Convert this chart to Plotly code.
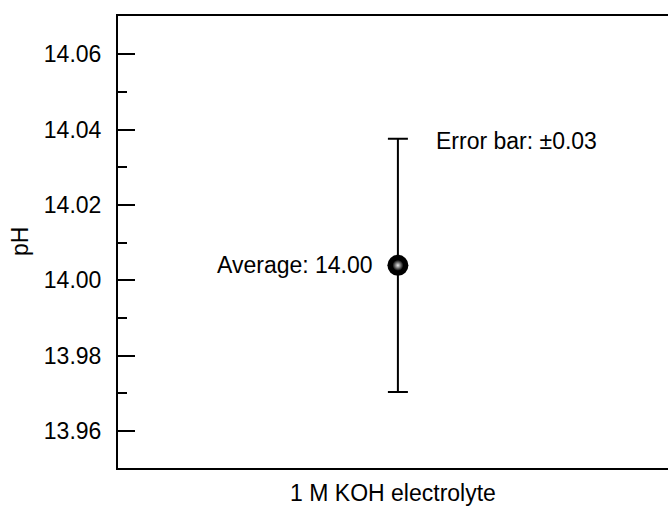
import plotly.graph_objects as go

# Measured pH of the electrolyte: mean value and its spread
categories = ["1 M KOH electrolyte"]
ph_mean = [14.004]
ph_error = [0.0336]

y_tickvals = [13.96, 13.98, 14.00, 14.02, 14.04, 14.06]
y_ticktext = ["13.96", "13.98", "14.00", "14.02", "14.04", "14.06"]

FONT = "Liberation Sans, Arial, sans-serif"
FS = 23

fig = go.Figure()

# Point with symmetric error bar (black sphere)
fig.add_trace(go.Scatter(
    x=categories, y=ph_mean,
    mode="markers",
    marker=dict(size=21, color="black", line=dict(width=0)),
    error_y=dict(type="data", array=ph_error, visible=True,
                 color="black", thickness=2, width=10),
    showlegend=False, hoverinfo="y",
))
# Glossy highlight on the sphere (light centre fading into black)
fig.add_trace(go.Scatter(
    x=categories, y=ph_mean,
    mode="markers",
    marker=dict(size=11, color="black",
                gradient=dict(type="radial", color="#e8e8e8"),
                line=dict(width=0)),
    showlegend=False, hoverinfo="skip",
))

mean_val = ph_mean[0]
err_val = ph_error[0]

fig.add_annotation(
    x=categories[0], y=mean_val, xref="x", yref="y",
    text=f"Average: {mean_val:.2f}", showarrow=False,
    xanchor="right", yanchor="middle", xshift=-23,
    font=dict(family=FONT, size=FS, color="black"),
)
fig.add_annotation(
    x=categories[0], y=mean_val + err_val, xref="x", yref="y",
    text=f"Error bar: \u00b1{err_val:.2f}", showarrow=False,
    xanchor="left", yanchor="middle", xshift=36, yshift=-2,
    font=dict(family=FONT, size=FS, color="black"),
)
fig.add_annotation(
    x=0, y=0.5, xref="paper", yref="paper",
    text="pH", textangle=-90, showarrow=False,
    xanchor="center", yanchor="middle", xshift=-98,
    font=dict(family=FONT, size=FS, color="black"),
)

fig.update_xaxes(
    type="category", range=[-1, 0.965],
    showticklabels=False, ticks="", showgrid=False, zeroline=False,
    showline=True, linecolor="black", linewidth=2, mirror=True,
    title=dict(text="1 M KOH electrolyte", standoff=19,
               font=dict(family=FONT, size=FS, color="black")),
)
fig.update_yaxes(
    range=[13.9502, 14.0702],
    tickvals=y_tickvals, ticktext=y_ticktext,
    ticks="inside", ticklen=17, tickwidth=2, tickcolor="black",
    minor=dict(ticks="inside", ticklen=9, tickwidth=2, tickcolor="black",
               dtick=0.01, tick0=13.95, showgrid=False),
    ticklabelstandoff=10,
    tickfont=dict(family=FONT, size=FS, color="black"),
    showgrid=False, zeroline=False,
    showline=True, linecolor="black", linewidth=2, mirror=False,
)

fig.update_layout(
    width=668, height=506,
    margin=dict(l=118, r=0, t=16, b=38, autoexpand=False),
    paper_bgcolor="white", plot_bgcolor="white",
    font=dict(family=FONT, size=FS, color="black"),
)

fig.write_html("out.html")
